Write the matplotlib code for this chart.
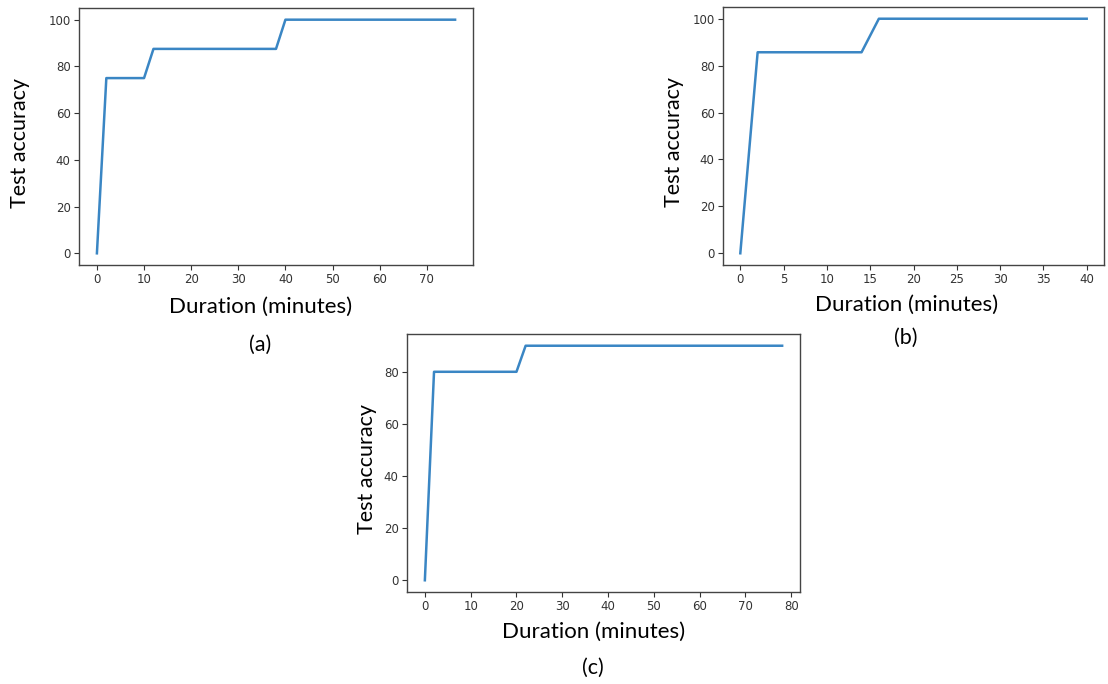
import matplotlib
matplotlib.use("Agg")
import matplotlib.pyplot as plt

W, H = 1108, 684

# Data
a_x = [0, 2, 10, 12, 38, 40, 76]
a_y = [0, 75, 75, 87.5, 87.5, 100, 100]
b_x = [0, 2, 14, 16, 40]
b_y = [0, 85.7, 85.7, 100, 100]
c_x = [0, 2, 20, 22, 78]
c_y = [0, 80, 80, 90, 90]

a_xticks = [0, 10, 20, 30, 40, 50, 60, 70]
b_xticks = [0, 5, 10, 15, 20, 25, 30, 35, 40]
c_xticks = [0, 10, 20, 30, 40, 50, 60, 70, 80]
a_yticks = [0, 20, 40, 60, 80, 100]
b_yticks = [0, 20, 40, 60, 80, 100]
c_yticks = [0, 20, 40, 60, 80]

panel_labels = ["(a)", "(b)", "(c)"]
xlabel = "Duration (minutes)"
ylabel = "Test accuracy"

fig = plt.figure(figsize=(W / 100, H / 100), dpi=100)

def box(l, r, t, b):
    return [l / W, 1 - b / H, (r - l) / W, (b - t) / H]

panels = [
    (box(79, 473, 8, 265), a_x, a_y, a_xticks, a_yticks, (261, 307), (20, 143), (260, 345)),
    (box(723, 1104, 7, 265), b_x, b_y, b_xticks, b_yticks, (907, 305), (674, 142), (906, 338)),
    (box(407, 800, 334, 592), c_x, c_y, c_xticks, c_yticks, (594, 632), (367, 469), (593, 668)),
]

label_font = "Lato"
line_color = "#3a86c4"
spine_color = "#444444"
tick_color = "#333333"

for i, (rect, xs, ys, xt, yt, xl_pos, yl_pos, pl_pos) in enumerate(panels):
    ax = fig.add_axes(rect)
    ax.plot(xs, ys, color=line_color, lw=1.8)
    ax.set_xticks(xt)
    ax.set_yticks(yt)
    ax.tick_params(labelsize=8.5, colors=tick_color, length=3.5, width=0.8, pad=2.5)
    for s in ax.spines.values():
        s.set_color(spine_color)
        s.set_linewidth(1.0)
    fig.text(xl_pos[0] / W, 1 - xl_pos[1] / H, xlabel, ha="center", va="center",
             fontsize=16, family=label_font, color="black")
    fig.text(yl_pos[0] / W, 1 - yl_pos[1] / H, ylabel, ha="center", va="center",
             fontsize=15.5, family=label_font, rotation=90, color="black")
    fig.text(pl_pos[0] / W, 1 - pl_pos[1] / H, panel_labels[i], ha="center", va="center",
             fontsize=15.5, family=label_font, color="black")

fig.savefig("out.png", dpi=100)
